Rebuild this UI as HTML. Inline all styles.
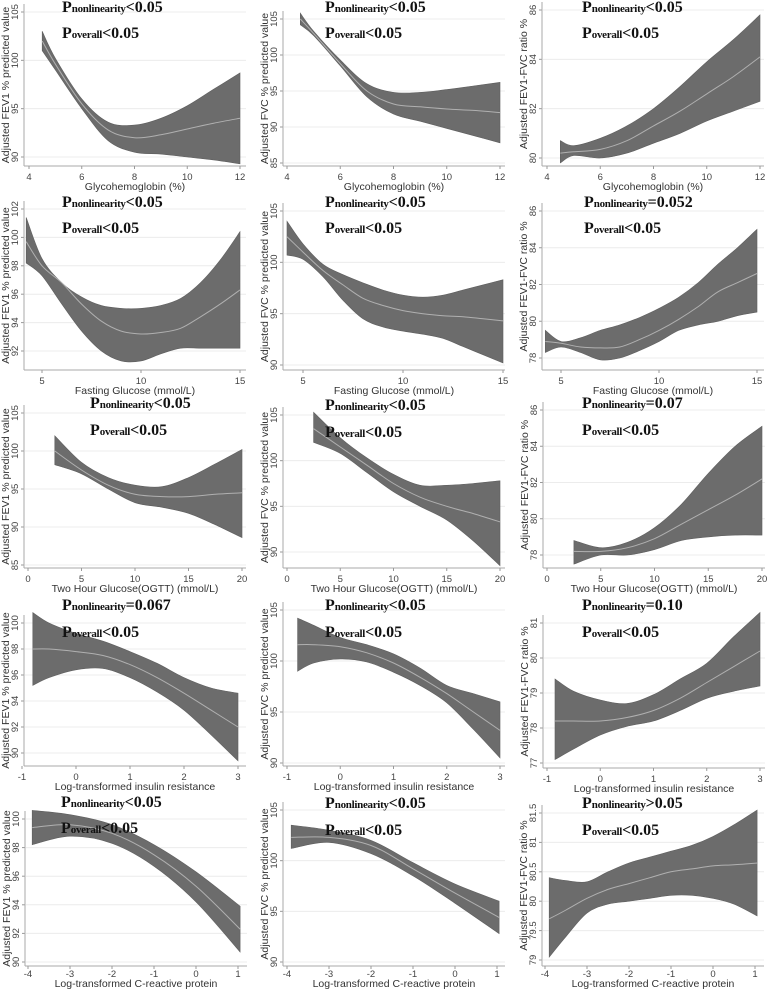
<!DOCTYPE html>
<html><head><meta charset="utf-8"><style>
html,body{margin:0;padding:0;background:#fff;}
svg{display:block;}
.tk{font-family:"Liberation Sans",sans-serif;font-size:9.5px;fill:#444;}
.ttl{font-family:"Liberation Sans",sans-serif;font-size:10.5px;fill:#333;}
.pv{font-family:"Liberation Serif",serif;font-weight:bold;fill:#111;}
</style></head><body>
<svg id="fig" width="772" height="991" viewBox="0 0 772 991" xmlns="http://www.w3.org/2000/svg"></svg>
<script>
// ---- data ----
const xTicksR1=[4,6,8,10,12];
const xTicksR2=[5,10,15];
const xTicksR3=[0,5,10,15,20];
const xTicksR4=[-1,0,1,2,3];
const xTicksR5=[-4,-3,-2,-1,0,1];

const p1x=[4.5,5,6,7,8,9,10,11,12];
const p1hi=[103,100.2,96,93.6,93.3,94,95.3,97,98.7];
const p1mid=[102,99.6,95.5,92.8,92,92.3,92.9,93.5,94];
const p1lo=[101,99,95,91.7,90.5,90.3,90,89.7,89.3];
const p1yt=[90,95,100,105];

const p2x=[4.5,5,6,7,8,9,10,11,12];
const p2hi=[105.8,103.3,99.3,96,94.8,94.8,95.2,95.7,96.2];
const p2mid=[105,103,98.8,95,93.2,92.8,92.5,92.3,92];
const p2lo=[104.2,102.7,98.5,94.2,91.8,90.8,89.8,88.8,87.8];
const p2yt=[85,90,95,100,105];

const p3x=[4.5,5,6,7,8,9,10,11,12];
const p3hi=[80.7,80.5,80.8,81.3,82,82.9,83.9,84.8,85.8];
const p3mid=[80.2,80.25,80.35,80.7,81.3,81.9,82.6,83.3,84.1];
const p3lo=[79.8,80.1,80,80.2,80.6,81,81.5,81.9,82.3];
const p3yt=[80,82,84,86];

const p4x=[4.2,5,6,7,8,9,10,11,12,13,14,15];
const p4hi=[101.4,98.5,96.8,95.8,95.2,95,95,95.2,95.7,96.8,98.4,100.4];
const p4mid=[99.7,98,96.8,95.3,94.1,93.4,93.2,93.3,93.6,94.4,95.3,96.3];
const p4lo=[98.2,97.3,95.3,93.4,92,91.3,91.3,91.8,92.2,92.2,92.2,92.2];
const p4yt=[92,94,96,98,100,102];

const p5x=[4.2,5,6,7,8,9,10,11,12,13,14,15];
const p5hi=[104,101.8,99.8,98.8,98,97.3,96.8,96.6,96.8,97.3,97.8,98.3];
const p5mid=[102.5,101,99.2,97.8,96.5,95.8,95.3,95,94.8,94.7,94.5,94.3];
const p5lo=[100.7,100.3,98.6,96.3,94.5,93.7,93.3,93,92.6,91.8,91,90.2];
const p5yt=[90,95,100,105];

const p6x=[4.2,5,6,7,8,9,10,11,12,13,14,15];
const p6hi=[79.5,78.9,79.1,79.5,79.8,80.2,80.7,81.3,82.1,83.1,84,85];
const p6mid=[78.9,78.8,78.6,78.55,78.6,79,79.5,80.1,80.8,81.6,82.1,82.6];
const p6lo=[78.3,78.6,78.3,77.9,78,78.4,78.9,79.5,79.8,80,80.3,80.5];
const p6yt=[78,80,82,84,86];

const p7x=[2.5,5,7.5,10,12.5,15,17.5,20];
const p7hi=[102,98.5,96.5,95.5,95.3,96.5,98.3,100.2];
const p7mid=[100,97.5,95.5,94.3,94,94,94.3,94.5];
const p7lo=[98.2,97,95,93.2,92.6,91.8,90.3,88.6];
const p7yt=[85,90,95,100,105];

const p8x=[2.5,5,7.5,10,12.5,15,17.5,20];
const p8hi=[105.3,102.5,100.3,98.5,97.3,97.3,97.5,97.8];
const p8mid=[103.5,101.5,99.5,97.5,96,95,94.2,93.3];
const p8lo=[102,100.8,98.7,96.6,95,93.5,91.2,88.5];
const p8yt=[90,95,100,105];

const p9x=[2.5,5,7.5,10,12.5,15,17.5,20];
const p9hi=[78.8,78.4,78.7,79.5,80.8,82.5,84,85.1];
const p9mid=[78.2,78.2,78.4,78.9,79.7,80.5,81.3,82.2];
const p9lo=[77.5,78,78,78.3,78.8,79,79.1,79.1];
const p9yt=[78,80,82,84,86];

const p10x=[-0.8,-0.5,0,0.5,1,1.5,2,2.5,3];
const p10hi=[100.8,100,99.2,98.6,97.8,96.9,95.8,95,94.6];
const p10mid=[98,98,97.8,97.5,96.8,95.8,94.6,93.3,92];
const p10lo=[95.2,95.8,96.4,96.5,95.8,94.7,93.3,91.4,89.4];
const p10yt=[90,92,94,96,98,100];

const p11x=[-0.8,-0.5,0,0.5,1,1.5,2,2.5,3];
const p11hi=[104.2,103.5,102.3,101.6,100.7,99.3,97.6,96.8,96];
const p11mid=[101.6,101.6,101.4,100.8,99.8,98.4,96.8,95,93.2];
const p11lo=[99,99.8,100.2,99.9,98.9,97.6,95.9,93.3,90.5];
const p11yt=[90,95,100,105];

const p12x=[-0.85,-0.5,0,0.5,1,1.5,2,2.5,3];
const p12hi=[79.4,79.05,78.8,78.7,78.95,79.4,79.85,80.6,81.3];
const p12mid=[78.2,78.2,78.2,78.3,78.5,78.85,79.3,79.75,80.2];
const p12lo=[77.1,77.4,77.8,78.05,78.2,78.5,78.85,79.05,79.2];
const p12yt=[77,78,79,80,81];

const p13x=[-3.9,-3,-2,-1,0,1.05];
const p13hi=[100.6,100.3,99.6,98.2,96.3,93.9];
const p13mid=[99.4,99.6,99,97.5,95.3,92.3];
const p13lo=[98.2,98.8,98.3,96.7,94.2,90.7];
const p13yt=[90,92,94,96,98,100];

const p14x=[-3.9,-3,-2,-1,0,1.05];
const p14hi=[103.5,103,102,99.8,97.7,96];
const p14mid=[102.3,102.3,101.5,99.2,96.8,94.4];
const p14lo=[101.2,101.8,100.7,98.5,95.8,92.8];
const p14yt=[90,95,100,105];

const p15x=[-3.9,-3.5,-3,-2.5,-2,-1.5,-1,-0.5,0,0.5,1.05];
const p15hi=[80.4,80.35,80.33,80.5,80.65,80.75,80.85,80.95,81.1,81.3,81.55];
const p15mid=[79.7,79.85,80.05,80.2,80.3,80.4,80.5,80.55,80.6,80.62,80.65];
const p15lo=[79.05,79.4,79.8,79.95,80,80.05,80.1,80.1,80.05,79.95,79.75];
const p15yt=[79,79.5,80,80.5,81,81.5];

const pNonlin=["<0.05","<0.05","<0.05","<0.05","<0.05","=0.052","<0.05","<0.05","=0.07","=0.067","<0.05","=0.10","<0.05","<0.05",">0.05"];

// ---- layout ----
const fev1="Adjusted FEV1 % predicted value", fvc="Adjusted FVC % predicted value", ratio="Adjusted FEV1-FVC ratio %";
const panels=[
 {x:p1x,hi:p1hi,mid:p1mid,lo:p1lo,yt:p1yt,xt:xTicksR1,ax:24,xp:[29,240],yp:[157,12],ay:166,pb:[12,38],px:62,yl:fev1,xl:"Glycohemoglobin (%)"},
 {x:p2x,hi:p2hi,mid:p2mid,lo:p2lo,yt:p2yt,xt:xTicksR1,ax:283,xp:[287,500],yp:[163,19],ay:166,pb:[12,38],px:325,yl:fvc,xl:"Glycohemoglobin (%)"},
 {x:p3x,hi:p3hi,mid:p3mid,lo:p3lo,yt:p3yt,xt:xTicksR1,ax:542,xp:[547,760],yp:[158,10],ay:166,pb:[12,38],px:582,yl:ratio,xl:"Glycohemoglobin (%)"},
 {x:p4x,hi:p4hi,mid:p4mid,lo:p4lo,yt:p4yt,xt:xTicksR2,ax:24,xp:[42,240],yp:[351,209],ay:370,pb:[207,233],px:62,yl:fev1,xl:"Fasting Glucose (mmol/L)"},
 {x:p5x,hi:p5hi,mid:p5mid,lo:p5lo,yt:p5yt,xt:xTicksR2,ax:283,xp:[303,503],yp:[365,211],ay:370,pb:[207,233],px:325,yl:fvc,xl:"Fasting Glucose (mmol/L)"},
 {x:p6x,hi:p6hi,mid:p6mid,lo:p6lo,yt:p6yt,xt:xTicksR2,ax:542,xp:[561,757],yp:[358,211],ay:370,pb:[207,233],px:584,yl:ratio,xl:"Fasting Glucose (mmol/L)"},
 {x:p7x,hi:p7hi,mid:p7mid,lo:p7lo,yt:p7yt,xt:xTicksR3,ax:24,xp:[28,242],yp:[565,413],ay:568,pb:[408,435],px:90,yl:fev1,xl:"Two Hour Glucose(OGTT) (mmol/L)"},
 {x:p8x,hi:p8hi,mid:p8mid,lo:p8lo,yt:p8yt,xt:xTicksR3,ax:283,xp:[287,500],yp:[552,415],ay:568,pb:[410,437],px:325,yl:fvc,xl:"Two Hour Glucose(OGTT) (mmol/L)"},
 {x:p9x,hi:p9hi,mid:p9mid,lo:p9lo,yt:p9yt,xt:xTicksR3,ax:543,xp:[547,762],yp:[555,410],ay:568,pb:[408,435],px:582,yl:ratio,xl:"Two Hour Glucose(OGTT) (mmol/L)"},
 {x:p10x,hi:p10hi,mid:p10mid,lo:p10lo,yt:p10yt,xt:xTicksR4,ax:24,xp:[22,238],yp:[753,623],ay:766,pb:[610,637],px:62,yl:fev1,xl:"Log-transformed insulin resistance"},
 {x:p11x,hi:p11hi,mid:p11mid,lo:p11lo,yt:p11yt,xt:xTicksR4,ax:283,xp:[287,500],yp:[763,610],ay:766,pb:[610,637],px:325,yl:fvc,xl:"Log-transformed insulin resistance"},
 {x:p12x,hi:p12hi,mid:p12mid,lo:p12lo,yt:p12yt,xt:xTicksR4,ax:543,xp:[547,760],yp:[763,623],ay:768,pb:[610,637],px:582,yl:ratio,xl:"Log-transformed insulin resistance"},
 {x:p13x,hi:p13hi,mid:p13mid,lo:p13lo,yt:p13yt,xt:xTicksR5,ax:25,xp:[28,238],yp:[962,819],ay:966,pb:[807,833],px:61,yl:fev1,xl:"Log-transformed C-reactive protein",tk:11,xo:21},
 {x:p14x,hi:p14hi,mid:p14mid,lo:p14lo,yt:p14yt,xt:xTicksR5,ax:283,xp:[287,497],yp:[962,810],ay:966,pb:[808,835],px:325,yl:fvc,xl:"Log-transformed C-reactive protein",tk:11,xo:21},
 {x:p15x,hi:p15hi,mid:p15mid,lo:p15lo,yt:p15yt,xt:xTicksR5,ax:542,xp:[545,755],yp:[960,813],ay:966,pb:[808,835],px:582,yl:ratio,xl:"Log-transformed C-reactive protein",tk:11,xo:21}
];

const NS="http://www.w3.org/2000/svg";
const svg=document.getElementById('fig');
function mk(tag,attrs,parent){const e=document.createElementNS(NS,tag);for(const k in attrs)e.setAttribute(k,attrs[k]);(parent||svg).appendChild(e);return e;}
function spline(pts){
  let d="M"+pts[0][0].toFixed(1)+","+pts[0][1].toFixed(1);
  for(let i=0;i<pts.length-1;i++){
    const p0=pts[Math.max(0,i-1)],p1=pts[i],p2=pts[i+1],p3=pts[Math.min(pts.length-1,i+2)];
    const c1=[p1[0]+(p2[0]-p0[0])/6,p1[1]+(p2[1]-p0[1])/6];
    const c2=[p2[0]-(p3[0]-p1[0])/6,p2[1]-(p3[1]-p1[1])/6];
    d+=" C"+c1[0].toFixed(1)+","+c1[1].toFixed(1)+" "+c2[0].toFixed(1)+","+c2[1].toFixed(1)+" "+p2[0].toFixed(1)+","+p2[1].toFixed(1);
  }
  return d;
}

panels.forEach((p,i)=>{
  const g=mk('g',{});
  
  
  const xt=p.xt, yt=p.yt;
  const tkOff=p.tk||14, xlOff=p.xo||24;
  const xs=v=>p.xp[0]+(v-xt[0])*(p.xp[1]-p.xp[0])/(xt[xt.length-1]-xt[0]);
  const ys=v=>p.yp[0]+(v-yt[0])*(p.yp[1]-p.yp[0])/(yt[yt.length-1]-yt[0]);
  const right=p.ax+222, top=p.yp[1]-8;
  yt.forEach(v=>{
    const y=ys(v);
    const gl=mk('line',{x1:p.ax+1,x2:right,y1:y,y2:y,stroke:'#ececec','stroke-width':1},g);
    
    
    mk('line',{x1:p.ax-3,x2:p.ax,y1:y,y2:y,stroke:'#999','stroke-width':1},g);
    const t=mk('text',{class:'tk',x:0,y:0,transform:`translate(${p.ax-6},${y}) rotate(-90)`,'text-anchor':'middle'},g);
    t.textContent=String(v);
    
    
  });
  const ya=mk('line',{x1:p.ax,x2:p.ax,y1:top,y2:p.ay,stroke:'#aaa','stroke-width':1},g);
  
  
  const xa=mk('line',{x1:p.ax,x2:right,y1:p.ay,y2:p.ay,stroke:'#aaa','stroke-width':1},g);
  
  
  xt.forEach(v=>{
    const x=xs(v);
    mk('line',{x1:x,x2:x,y1:p.ay,y2:p.ay+3,stroke:'#999','stroke-width':1},g);
    const t=mk('text',{class:'tk',x:x,y:p.ay+tkOff,'text-anchor':'middle'},g);
    t.textContent=String(v);
    
    
  });
  const up=p.x.map((v,k)=>[xs(v),ys(p.hi[k])]);
  const lo=p.x.map((v,k)=>[xs(v),ys(p.lo[k])]).reverse();
  const dUp=spline(up), dLo=spline(lo).replace(/^M/,"L");
  const band=mk('path',{d:dUp+" "+dLo+" Z",fill:'#6c6c6c',stroke:'#5e5e5e','stroke-width':0.6},g);
  
  
  const mid=mk('path',{d:spline(p.x.map((v,k)=>[xs(v),ys(p.mid[k])])),fill:'none',stroke:'#b0b0b0','stroke-width':1},g);
  
  
  const yl=mk('text',{class:'ttl',x:0,y:0,transform:`translate(${p.ax-15},${(top+p.ay)/2}) rotate(-90)`,'text-anchor':'middle'},g);
  yl.textContent=p.yl;
  
  
  const xl=mk('text',{class:'ttl',x:(p.ax+right)/2,y:p.ay+xlOff,'text-anchor':'middle'},g);
  xl.textContent=p.xl;
  
  
  const t1=mk('text',{class:'pv',x:p.px,y:p.pb[0]},g);
  
  
  mk('tspan',{'font-size':'16px'},t1).textContent="P";
  mk('tspan',{'font-size':'11px','letter-spacing':'-0.3'},t1).textContent="nonlinearity";
  mk('tspan',{'font-size':'16px'},t1).textContent=pNonlin[i];
  const t2=mk('text',{class:'pv',x:p.px,y:p.pb[1]},g);
  
  
  mk('tspan',{'font-size':'16px'},t2).textContent="P";
  mk('tspan',{'font-size':'11px','letter-spacing':'-0.3'},t2).textContent="overall";
  mk('tspan',{'font-size':'16px'},t2).textContent="<0.05";
});
</script>
</body></html>
